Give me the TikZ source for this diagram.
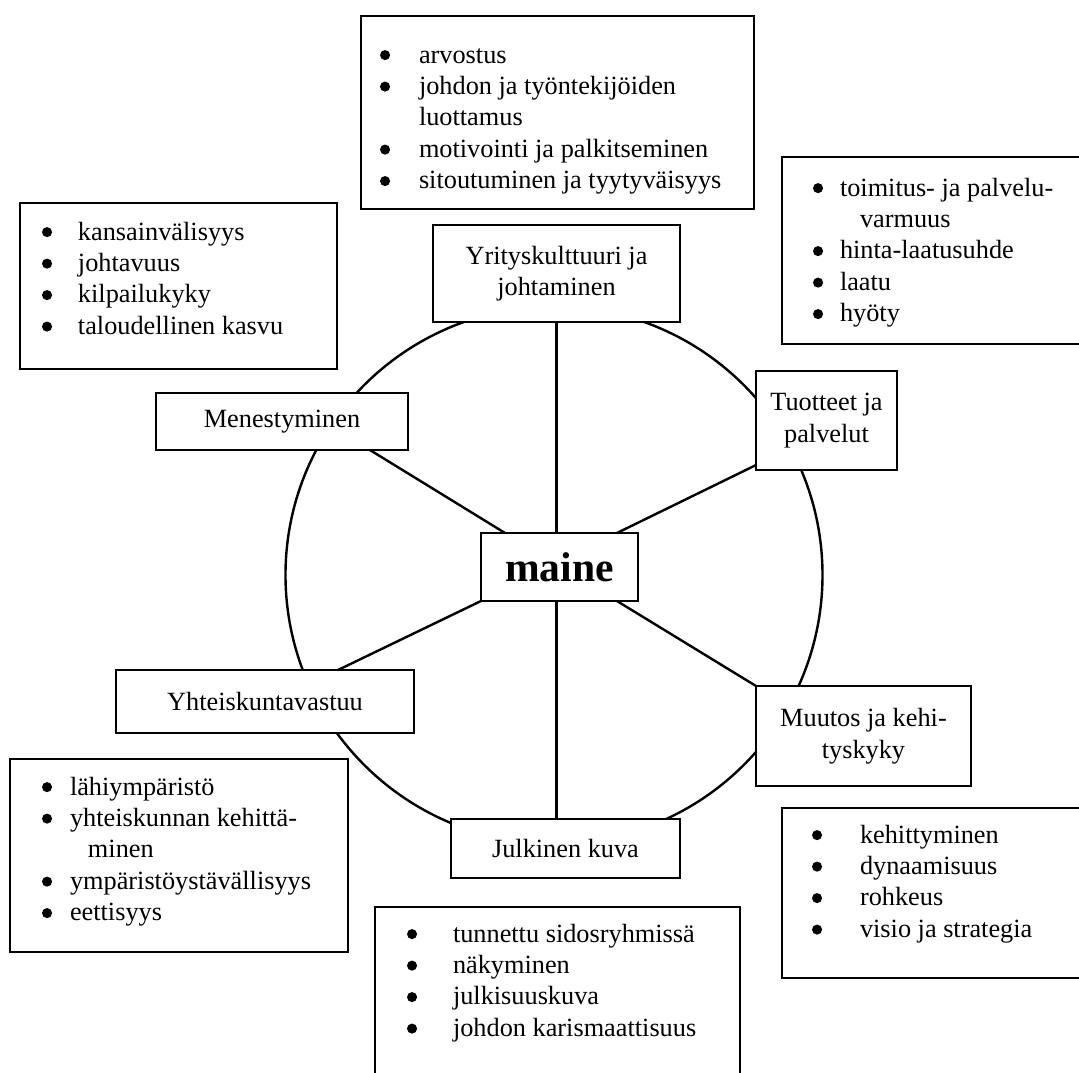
\documentclass[tikz,border=0pt]{standalone}
\usepackage{fontspec}
\setmainfont{Liberation Serif}
\usetikzlibrary{calc}
\newdimen\px \px=0.4563pt
% large round list bullet, drawn as a dot sitting at mid x-height
\newcommand\bul{\tikz[baseline=0pt]\fill (2.4pt,3.6pt) circle (2.3pt);}
\newcommand\bcol[1]{\makebox[#1\px][l]{\bul}}
\begin{document}
\begin{tikzpicture}[x=0.4563pt,y=-0.4563pt,
  box/.style={draw, line width=1.1pt, fill=white, inner sep=0pt, outer sep=0pt,
              font=\fontsize{12}{14.4}\selectfont, align=center},
  link/.style={line width=1.1pt},
  list/.style={anchor=base west, inner sep=0pt, outer sep=0pt,
               font=\fontsize{12}{14.37}\selectfont}]
\useasboundingbox (0,0) rectangle (1079,1073);
\clip (0,0) rectangle (1079,1073);

% the ring around the core concept
\draw[link] (554,575) circle (122.52pt);

% outer boxes with their bullet lists
\node[box, minimum width=393\px, minimum height=193\px] (arv) at (557.5,112.5) {};
\node[list] (arvtext) at (380,63) {\begin{tabular}[t]{@{}l@{}l@{}}
  \bcol{39}&arvostus\\
  \bcol{39}&johdon ja työntekijöiden\\
  &luottamus\\
  \bcol{39}&motivointi ja palkitseminen\\
  \bcol{39}&sitoutuminen ja tyytyväisyys
\end{tabular}};

\node[box, minimum width=308\px, minimum height=187\px] (toim) at (936,250.5) {};
\node[list] (toimtext) at (813,196) {\begin{tabular}[t]{@{}l@{}l@{}}
  \bcol{27}&toimitus- ja palvelu-\\
  &\hspace{20\px}varmuus\\
  \bcol{27}&hinta-laatusuhde\\
  \bcol{27}&laatu\\
  \bcol{27}&hyöty
\end{tabular}};

\node[box, minimum width=317\px, minimum height=166\px] (kans) at (178.5,286) {};
\node[list] (kanstext) at (42,240) {\begin{tabular}[t]{@{}l@{}l@{}}
  \bcol{36}&kansainvälisyys\\
  \bcol{36}&johtavuus\\
  \bcol{36}&kilpailukyky\\
  \bcol{36}&taloudellinen kasvu
\end{tabular}};

\node[box, minimum width=338\px, minimum height=193\px] (lahi) at (179,855.5) {};
\node[list] (lahitext) at (42,795) {\begin{tabular}[t]{@{}l@{}l@{}}
  \bcol{28}&lähiympäristö\\
  \bcol{28}&yhteiskunnan kehittä-\\
  &\hspace{18\px}minen\\
  \bcol{28}&ympäristöystävällisyys\\
  \bcol{28}&eettisyys
\end{tabular}};

\node[box, minimum width=365\px, minimum height=193\px] (tunn) at (557.5,1003.5) {};
\node[list] (tunntext) at (407,942) {\begin{tabular}[t]{@{}l@{}l@{}}
  \bcol{46}&tunnettu sidosryhmissä\\
  \bcol{46}&näkyminen\\
  \bcol{46}&julkisuuskuva\\
  \bcol{46}&johdon karismaattisuus
\end{tabular}};

\node[box, minimum width=308\px, minimum height=170\px] (kehi) at (936,893) {};
\node[list] (kehitext) at (812,843) {\begin{tabular}[t]{@{}l@{}l@{}}
  \bcol{48}&kehittyminen\\
  \bcol{48}&dynaamisuus\\
  \bcol{48}&rohkeus\\
  \bcol{48}&visio ja strategia
\end{tabular}};

% the six factors on the ring
\node[box, minimum width=247\px, minimum height=97\px] (yrit) at (556.5,273.5) {Yrityskulttuuri ja\\johtaminen};
\node[box, minimum width=252\px, minimum height=57\px] (men) at (282,421.5) {Menestyminen};
\node[box, minimum width=141\px, minimum height=99\px] (tuot) at (826.5,420.5) {Tuotteet ja\\palvelut};
\node[box, minimum width=298\px, minimum height=63\px] (yht) at (265,701.5) {Yhteiskuntavastuu};
\node[box, minimum width=215\px, minimum height=100\px] (muut) at (863.5,736) {Muutos ja kehi-\\tyskyky};
\node[box, minimum width=229\px, minimum height=59\px] (julk) at (565.5,848.5) {Julkinen kuva};

% the core
\node[box, minimum width=157\px, minimum height=68\px, font=\fontsize{19}{22}\selectfont\bfseries] (maine) at (559.5,567) {maine};

% spokes
\draw[link] (yrit.south) -- (yrit.south |- maine.north);
\draw[link] (maine.south -| yrit.south) -- (julk.north -| yrit.south);
\draw[link] ($(men.south west)!0.849!(men.south east)$) -- ($(maine.north west)!0.153!(maine.north east)$);
\draw[link] ($(tuot.north west)!0.95!(tuot.south west)$) -- ($(maine.north west)!0.866!(maine.north east)$);
\draw[link] (maine.south west) -- ($(yht.north west)!0.745!(yht.north east)$);
\draw[link] ($(maine.south west)!0.866!(maine.south east)$) -- (muut.north west);
\end{tikzpicture}
\end{document}
